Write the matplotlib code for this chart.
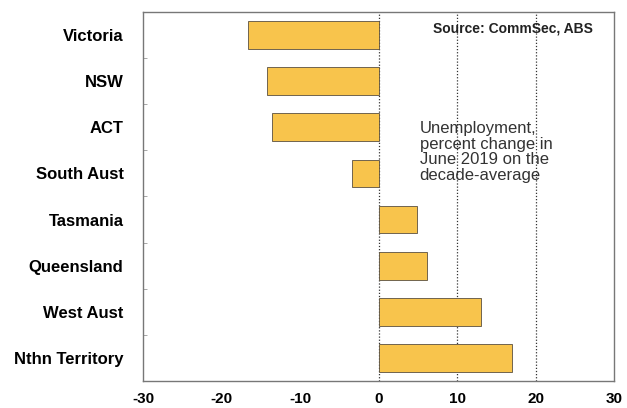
import matplotlib.pyplot as plt
import numpy as np

plt.rcParams['font.family'] = ['Liberation Sans', 'DejaVu Sans']

# regions, top to bottom
regions = ['Victoria', 'NSW', 'ACT', 'South Aust', 'Tasmania',
           'Queensland', 'West Aust', 'Nthn Territory']
# unemployment, % change in June 2019 on decade average
pct_change = [-16.6, -14.2, -13.6, -3.4, 4.9, 6.2, 13.0, 16.9]
xticks = [-30, -20, -10, 0, 10, 20, 30]

fig = plt.figure(figsize=(6.27, 4.08), dpi=100)
ax = fig.add_axes([0.228, 0.066, 0.752, 0.905])

y = np.arange(len(regions))
ax.barh(y, pct_change, height=0.6, color='#F8C44C', edgecolor='#5a5040',
        linewidth=0.6, zorder=3)

# dotted reference lines
for xv in [0, 10, 20]:
    ax.axvline(xv, color='#333333', linestyle=(0, (1, 1.5)), linewidth=0.9, zorder=2)

ax.set_xlim(-30, 30)
ax.set_ylim(len(regions) - 0.5, -0.5)
ax.set_xticks(xticks)
ax.set_xticklabels([str(v) for v in xticks], fontweight='bold', fontsize=11)
ax.set_yticks(y)
ax.set_yticklabels(regions, fontweight='bold', fontsize=12)
ax.set_yticks(np.arange(len(regions) - 1) + 0.5, minor=True)
ax.tick_params(axis='y', which='major', length=0, pad=14)
ax.tick_params(axis='y', which='minor', length=3, direction='in', color='#999999')
ax.tick_params(axis='x', length=0, pad=8)

for s in ax.spines.values():
    s.set_color('#777777')
    s.set_linewidth(1.0)

ax.text(0.955, 0.975, 'Source: CommSec, ABS', transform=ax.transAxes,
        ha='right', va='top', fontsize=10, fontweight='bold', color='#222222')
ax.text(5.2, 1.87, 'Unemployment,\npercent change in\nJune 2019 on the\ndecade-average',
        ha='left', va='top', fontsize=12, color='#333333', linespacing=1.05)

fig.savefig('out.png', dpi=100)
